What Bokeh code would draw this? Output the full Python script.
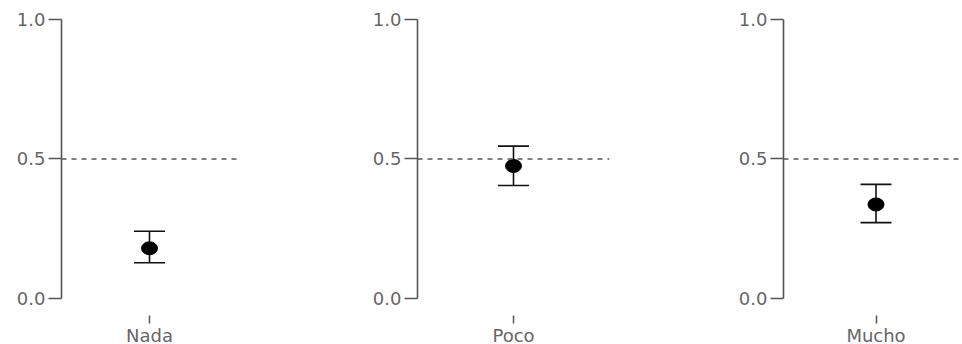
from bokeh.plotting import figure
from bokeh.layouts import row
from bokeh.models import (Range1d, FixedTicker, Span, Whisker, TeeHead,
                          ColumnDataSource)
from bokeh.embed import file_html
from bokeh.resources import INLINE

# Proportion with confidence interval for each group
categories = ["Nada", "Poco", "Mucho"]
means = [0.18, 0.475, 0.337]
lower = [0.128, 0.405, 0.272]
upper = [0.241, 0.546, 0.409]

y_ticks = [0.0, 0.5, 1.0]
y_tick_labels = ["0.0", "0.5", "1.0"]
reference_level = 0.5

# panel geometry (pixels) and x extent around the single category position
frame_widths = [176, 192, 179]
right_borders = [119, 113, 0]
x_ends = [2.0, 2.0, 1.935]

FONT = "DejaVu Sans"
AXIS_COLOR = "#555555"
LABEL_COLOR = "#666666"

figs = []
for i, cat in enumerate(categories):
    p = figure(
        output_backend="svg", toolbar_location=None,
        frame_width=frame_widths[i], frame_height=296,
        min_border_left=61, min_border_right=right_borders[i],
        min_border_top=19, min_border_bottom=29,
        x_range=Range1d(0, x_ends[i]),
        y_range=Range1d(-0.061, 1.0),
    )
    p.outline_line_color = None
    p.xgrid.visible = False
    p.ygrid.visible = False
    p.background_fill_color = "white"
    p.border_fill_color = "white"

    # y axis: line only between 0 and 1, outward ticks
    ya = p.yaxis[0]
    ya.ticker = FixedTicker(ticks=y_ticks)
    ya.major_label_overrides = {t: l for t, l in zip(y_ticks, y_tick_labels)}
    ya.bounds = (0, 1)
    ya.axis_line_color = AXIS_COLOR
    ya.axis_line_width = 1.6
    ya.major_tick_line_color = AXIS_COLOR
    ya.major_tick_line_width = 1.5
    ya.major_tick_in = 0
    ya.major_tick_out = 13
    ya.minor_tick_line_color = None
    ya.major_label_standoff = 3
    ya.major_label_text_font = FONT
    ya.major_label_text_font_size = "18px"
    ya.major_label_text_color = LABEL_COLOR

    # x axis: single tick with the group name
    xa = p.xaxis[0]
    xa.ticker = FixedTicker(ticks=[1])
    xa.major_label_overrides = {1: cat}
    xa.axis_line_color = None
    xa.major_tick_line_color = AXIS_COLOR
    xa.major_tick_line_width = 1.5
    xa.major_tick_in = 0
    xa.major_tick_out = 8
    xa.minor_tick_line_color = None
    xa.major_label_standoff = 1
    xa.major_label_text_font = FONT
    xa.major_label_text_font_size = "18px"
    xa.major_label_text_color = LABEL_COLOR

    # dashed reference line at 0.5
    p.add_layout(Span(location=reference_level, dimension="width",
                      line_color=AXIS_COLOR, line_width=1.6,
                      line_dash="5 5"))

    src = ColumnDataSource(dict(x=[1], mean=[means[i]],
                                lo=[lower[i]], hi=[upper[i]]))

    # confidence interval with caps
    p.add_layout(Whisker(
        source=src, base="x", lower="lo", upper="hi", dimension="height",
        line_color="#111111", line_width=1.6,
        upper_head=TeeHead(size=31, line_color="#111111", line_width=1.6),
        lower_head=TeeHead(size=31, line_color="#111111", line_width=1.6),
    ))

    # point estimate
    p.ellipse(x="x", y="mean", width=16, height=13,
              width_units="screen", height_units="screen",
              fill_color="black", line_color="black", source=src)

    figs.append(p)

layout = row(figs, spacing=0)
open("out.html", "w").write(file_html(layout, INLINE))
